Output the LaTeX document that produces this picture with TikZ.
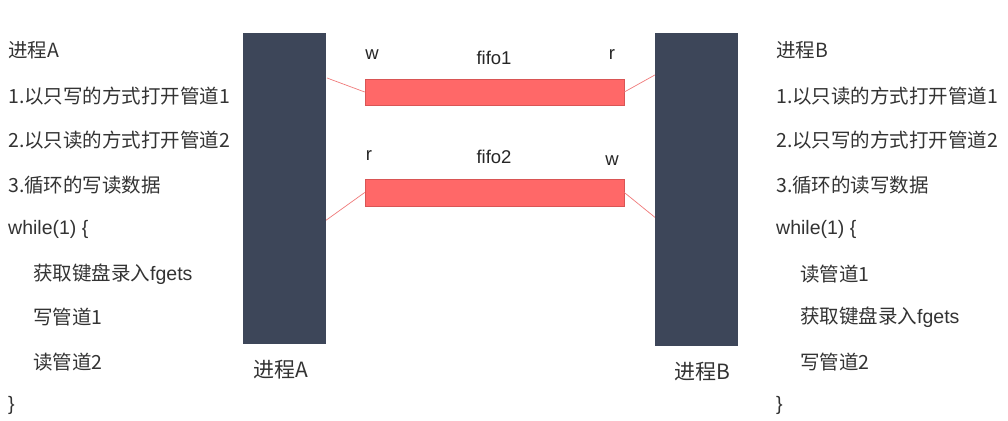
\documentclass[tikz,border=0pt]{standalone}
\usepackage{fontspec}
\setmainfont{Liberation Sans}
\newfontfamily\cjk{Noto Sans CJK SC}
\begin{document}
\begin{tikzpicture}[x=1pt,y=-1pt,
  txt/.style={anchor=west,inner sep=0pt,font=\fontsize{19.5}{19.5}\selectfont,text=black!80},
  lbl/.style={inner sep=0pt,font=\fontsize{18.5}{18.5}\selectfont,text=black!85},
  blbl/.style={inner sep=0pt,font=\fontsize{21}{21}\selectfont,text=black!80},
  procbar/.style={draw=none,fill=barblue,inner sep=0pt},
  pipe/.style={draw=pipeedge,line width=0.6pt,fill=pipered,inner sep=0pt},
  link/.style={draw=linkred,line width=0.7pt}]
\definecolor{barblue}{HTML}{3D4659}
\definecolor{pipered}{HTML}{FF6868}
\definecolor{pipeedge}{HTML}{D95555}
\definecolor{linkred}{HTML}{F07A7A}
\useasboundingbox (0,0) rectangle (1008,420);
\fill[white] (0,0) rectangle (1008,420);
% connectors (behind)
\coordinate (a1) at (327,78);
\coordinate (a2) at (325,221);
\coordinate (b1) at (662,71);
\coordinate (b2) at (657,219);
\node[pipe,minimum width=259pt,minimum height=26pt] (fifo1) at (494.5,92) {};
\node[pipe,minimum width=259pt,minimum height=27pt] (fifo2) at (494.5,192.5) {};
\draw[link] (fifo1.west) -- (a1);
\draw[link] (fifo1.east) -- (b1);
\draw[link] (fifo2.west) -- (a2);
\draw[link] (fifo2.east) -- (b2);
\node[procbar,minimum width=83pt,minimum height=311pt] (pa) at (284.5,188.5) {};
\node[procbar,minimum width=83pt,minimum height=313pt] (pb) at (696.5,189.5) {};
% pipe labels
\node[lbl] (w1) at (372,55) {w};
\node[lbl] (f1) at (494,58) {fifo1};
\node[lbl] (r1) at (612,55) {r};
\node[lbl] (r2) at (369,156) {r};
\node[lbl] (f2) at (494,157) {fifo2};
\node[lbl] (w2) at (612,161) {w};
\node[blbl] (na) at (281,370) {\cjk 进程A};
\node[blbl] (nb) at (702,372) {\cjk 进程B};
% left text
\node[txt] (l1) at (8,50) {\cjk 进程A};
\node[txt] (l2) at (8,96) {\cjk 1.以只写的方式打开管道1};
\node[txt] (l3) at (8,140) {\cjk 2.以只读的方式打开管道2};
\node[txt] (l4) at (8,185) {\cjk 3.循环的写读数据};
\node[txt] (l5) at (8,229) {while(1) \{};
\node[txt] (l6) at (33,274) {{\cjk 获取键盘录入}fgets};
\node[txt] (l7) at (33,317) {\cjk 写管道1};
\node[txt] (l8) at (33,362) {\cjk 读管道2};
\node[txt] (l9) at (8,405) {\}};
% right text
\node[txt] (m1) at (776,50) {\cjk 进程B};
\node[txt] (m2) at (776,96) {\cjk 1.以只读的方式打开管道1};
\node[txt] (m3) at (776,140) {\cjk 2.以只写的方式打开管道2};
\node[txt] (m4) at (776,185) {\cjk 3.循环的读写数据};
\node[txt] (m5) at (776,229) {while(1) \{};
\node[txt] (m6) at (800,274) {\cjk 读管道1};
\node[txt] (m7) at (800,317) {{\cjk 获取键盘录入}fgets};
\node[txt] (m8) at (800,362) {\cjk 写管道2};
\node[txt] (m9) at (776,405) {\}};
\end{tikzpicture}
\end{document}
